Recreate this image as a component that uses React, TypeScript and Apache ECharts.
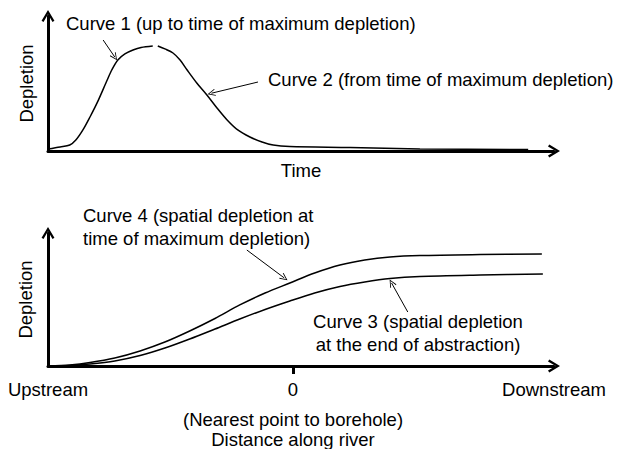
import React, { useEffect, useRef } from "react";
import * as echarts from "echarts";

// ---- Top panel: depletion vs time (arbitrary 0-100 units) ----
const curve1Time = [0, 2.4, 4.3, 5.5, 6.9, 8.3, 9.7, 11.7, 12.6, 13.8, 15.2, 16.8, 18.4, 20.7];
const curve1Depletion = [1.5, 3.0, 4.4, 8.1, 15.6, 25.2, 35.6, 52.6, 60.0, 67.4, 71.9, 74.8, 76.7, 77.8];

const curve2Time = [21.7, 23.1, 24.7, 26.1, 27.5, 29.4, 31.4, 33.4, 35.4, 37.5, 39.9, 42.3, 44.5, 47.8, 59.7, 73.5, 94.9];
const curve2Depletion = [77.8, 75.6, 72.6, 67.4, 60.0, 50.4, 41.5, 31.9, 23.0, 15.6, 10.4, 6.7, 4.4, 3.3, 2.6, 1.5, 1.1];

// ---- Bottom panel: depletion vs distance along river (0 = nearest point to borehole) ----
const distanceMin = -48.4;
const distanceMax = 51.6;
const curve4Distance = [-48.4, -44.1, -40.1, -35.2, -30.2, -25.3, -20.4, -15.4, -10.5, -5.5, -0.6, 4.3, 9.3, 14.2, 19.2, 25.1, 37.0, 49.2];
const curve4Depletion = [0, 0.8, 2.6, 6.0, 11.3, 18.0, 26.3, 35.7, 45.9, 54.9, 62.4, 69.9, 75.9, 79.7, 82.0, 83.1, 83.8, 84.2];

const curve3Distance = [-48.4, -44.1, -40.1, -35.2, -30.2, -25.3, -20.4, -15.4, -10.5, -5.5, -0.6, 4.3, 9.3, 14.2, 19.2, 25.1, 37.0, 49.4];
const curve3Depletion = [0, 0.4, 1.5, 3.8, 7.9, 13.5, 20.3, 27.8, 35.3, 42.5, 48.9, 54.9, 59.8, 63.2, 65.8, 67.3, 68.4, 69.2];

// annotation arrows: [from, to] in data coordinates
const arrowCurve1 = [[10.9, 82.2], [13.2, 69.6]];
const arrowCurve2 = [[41.5, 51.1], [32.3, 42.8]];
const arrowCurve4 = [[-9.1, 87.2], [-1.7, 66.2]];
const arrowCurve3 = [[22.7, 40.6], [19.5, 62.4]];

const bottomTickValues = [distanceMin, 0, distanceMax];
const bottomTickLabels = ["Upstream", "0", "Downstream"];

const FONT = "'Liberation Sans', Arial, Helvetica, sans-serif";
const FS = 18.5;
const AXIS_ARROW = "path://M6,0 L12,10 L10.2,11.2 L6,4 L1.8,11.2 L0,10 Z";
const HEAD = "path://M5,0 L10,9 L9,9.6 L5,2.2 L1,9.6 L0,9 Z";

const zip = (a: number[], b: number[]) => a.map((v, i) => [v, b[i]]);

const axisLine = {
  show: true,
  onZero: false,
  symbol: ["none", AXIS_ARROW],
  symbolSize: [13, 12],
  lineStyle: { color: "#000", width: 3 },
};

const nameStyle = { fontSize: FS, color: "#000", fontFamily: FONT };

const mkArrows = (arrows: number[][][]) => ({
  silent: true,
  symbol: ["none", HEAD],
  symbolSize: [7, 8],
  label: { show: false },
  emphasis: { disabled: true },
  lineStyle: { color: "#000", width: 1, type: "solid" },
  data: arrows.map((a) => [{ coord: a[0] }, { coord: a[1] }]),
});

const curveStyle = { color: "#000", width: 1.5 };

export default function App() {
  const ref = useRef<HTMLDivElement>(null);
  useEffect(() => {
    if (!ref.current) return;
    const chart = echarts.init(ref.current, null, { renderer: "svg" });
    const textEl = (x: number, y: number, text: string, align: string, lineHeight?: number) => ({
      type: "text",
      x,
      y,
      style: {
        text,
        fontSize: FS,
        fontFamily: FONT,
        fill: "#000",
        align,
        verticalAlign: "middle",
        lineHeight,
      },
    });
    chart.setOption({
      animation: false,
      backgroundColor: "#fff",
      grid: [
        { left: 48, top: 16, width: 506, height: 135, outerBoundsMode: "none" },
        { left: 48, top: 233, width: 506, height: 133, outerBoundsMode: "none" },
      ],
      xAxis: [
        {
          type: "value",
          gridIndex: 0,
          min: 0,
          max: 100,
          axisLine,
          axisTick: { show: false },
          axisLabel: { show: false },
          splitLine: { show: false },
          name: "Time",
          nameLocation: "middle",
          nameGap: 10,
          nameTextStyle: nameStyle,
        },
        {
          type: "value",
          gridIndex: 1,
          min: distanceMin,
          max: distanceMax,
          axisLine,
          axisTick: {
            show: true,
            customValues: [0],
            length: 8,
            lineStyle: { color: "#000", width: 3 },
          },
          axisLabel: {
            show: true,
            customValues: bottomTickValues,
            formatter: (v: number) => bottomTickLabels[bottomTickValues.indexOf(v)] ?? "",
            margin: 14,
            fontSize: FS,
            color: "#000",
            fontFamily: FONT,
          },
          splitLine: { show: false },
          name: "(Nearest point to borehole)\nDistance along river",
          nameLocation: "middle",
          nameGap: 43,
          nameTextStyle: { ...nameStyle, lineHeight: 20.5, padding: [0, 16, 0, 0] },
        },
      ],
      yAxis: [
        {
          type: "value",
          gridIndex: 0,
          min: 0,
          max: 100,
          axisLine,
          axisTick: { show: false },
          axisLabel: { show: false },
          splitLine: { show: false },
          name: "Depletion",
          nameLocation: "middle",
          nameRotate: 90,
          nameGap: 12,
          nameTextStyle: nameStyle,
        },
        {
          type: "value",
          gridIndex: 1,
          min: 0,
          max: 100,
          axisLine,
          axisTick: { show: false },
          axisLabel: { show: false },
          splitLine: { show: false },
          name: "Depletion",
          nameLocation: "middle",
          nameRotate: 90,
          nameGap: 13,
          nameTextStyle: nameStyle,
        },
      ],
      series: [
        {
          name: "Curve 1",
          type: "line",
          xAxisIndex: 0,
          yAxisIndex: 0,
          data: zip(curve1Time, curve1Depletion),
          showSymbol: false,
          smooth: 0.3,
          lineStyle: curveStyle,
          silent: true,
          markLine: mkArrows([arrowCurve1, arrowCurve2]),
        },
        {
          name: "Curve 2",
          type: "line",
          xAxisIndex: 0,
          yAxisIndex: 0,
          data: zip(curve2Time, curve2Depletion),
          showSymbol: false,
          smooth: 0.3,
          lineStyle: curveStyle,
          silent: true,
        },
        {
          name: "Curve 4",
          type: "line",
          xAxisIndex: 1,
          yAxisIndex: 1,
          data: zip(curve4Distance, curve4Depletion),
          showSymbol: false,
          smooth: 0.3,
          lineStyle: curveStyle,
          silent: true,
          markLine: mkArrows([arrowCurve4, arrowCurve3]),
        },
        {
          name: "Curve 3",
          type: "line",
          xAxisIndex: 1,
          yAxisIndex: 1,
          data: zip(curve3Distance, curve3Depletion),
          showSymbol: false,
          smooth: 0.3,
          lineStyle: curveStyle,
          silent: true,
        },
      ],
      graphic: [
        textEl(66, 23, "Curve 1 (up to time of maximum depletion)", "left"),
        textEl(268, 79, "Curve 2 (from time of maximum depletion)", "left"),
        textEl(83, 226.5, "Curve 4 (spatial depletion at\ntime of maximum depletion)", "left", 23),
        textEl(418, 333, "Curve 3 (spatial depletion\nat the end of abstraction)", "center", 22.5),
      ],
    });
    return () => chart.dispose();
  }, []);
  return (
    <div
      ref={ref}
      style={{ position: "absolute", left: 0, top: 0, width: 620, height: 449, background: "#fff" }}
    />
  );
}
